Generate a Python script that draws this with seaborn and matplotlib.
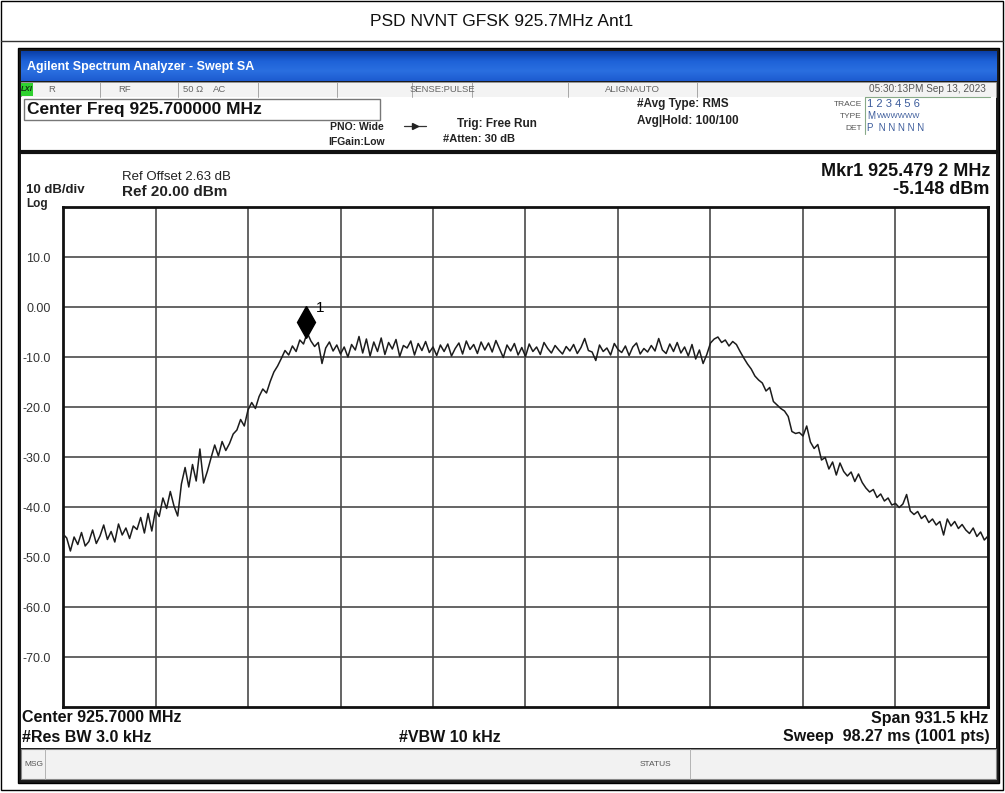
import numpy as np
import pandas as pd
import matplotlib
matplotlib.use("Agg")
import matplotlib.pyplot as plt
import matplotlib.patches as mpatches
import matplotlib.transforms as mtransforms
from matplotlib.lines import Line2D
import seaborn as sns

W, H = 1005, 793

# ---------------- data ----------------
title_text = "PSD NVNT GFSK 925.7MHz Ant1"
center_mhz = 925.7
span_khz = 931.5
ref_level_dbm = 20.0
db_per_div = 10.0
marker_freq_mhz = 925.4792
marker_level_dbm = -5.148

y_tick_values = [10, 0, -10, -20, -30, -40, -50, -60, -70]
y_tick_labels = ["10.0", "0.00", "-10.0", "-20.0", "-30.0", "-40.0",
                 "-50.0", "-60.0", "-70.0"]

trace_dbm = [
    -45.4, -46.2, -48.8, -46.0, -47.5, -45.1, -47.8, -46.9, -44.6, -47.3,
    -45.8, -43.6, -46.5, -44.9, -47.0, -43.4, -45.6, -44.2, -46.3, -43.8,
    -44.5, -42.1, -45.2, -41.3, -44.8, -40.6, -41.9, -38.2, -40.3, -36.9,
    -39.8, -41.8, -35.4, -32.1, -36.0, -31.5, -34.8, -28.4, -35.2, -32.9,
    -30.2, -27.6, -29.8, -26.9, -28.7, -27.3, -25.4, -24.6, -22.5, -23.8,
    -20.6, -19.1, -20.3, -17.9, -16.4, -17.2, -14.9, -13.0, -11.8, -10.3,
    -8.7, -9.6, -7.8, -8.9, -6.6, -7.4, -5.148, -6.8, -7.9, -7.1,
    -11.3, -8.2, -7.0, -8.8, -7.6, -9.4, -8.0, -10.0, -7.5, -8.6,
    -5.9, -9.2, -6.4, -9.8, -7.0, -8.9, -6.2, -9.5, -7.1, -8.4,
    -6.5, -9.9, -7.7, -8.2, -6.8, -9.6, -7.3, -8.7, -6.9, -9.1,
    -8.0, -9.7, -7.6, -8.9, -7.4, -9.8, -8.3, -7.2, -9.4, -6.8,
    -8.5, -7.5, -9.3, -7.0, -8.6, -7.2, -9.0, -6.7, -8.4, -10.1,
    -7.6, -8.8, -7.3, -9.6, -8.1, -9.9, -7.4, -8.9, -8.0, -9.5,
    -7.1, -8.3, -9.2, -7.7, -8.6, -9.4, -7.9, -8.8, -7.5, -9.3,
    -8.1, -6.3, -8.7, -9.0, -10.7, -7.6, -8.9, -8.2, -9.6, -7.3,
    -8.5, -9.1, -7.8, -9.7, -8.0, -7.2, -9.4, -8.3, -9.0, -7.7,
    -8.8, -6.3, -8.6, -9.3, -7.4, -8.9, -7.1, -9.2, -8.0, -9.8,
    -7.5, -10.4, -8.6, -11.3, -9.5, -7.2, -6.4, -6.0, -7.1, -6.6,
    -7.8, -6.9, -7.5, -8.9, -10.2, -11.4, -12.4, -13.8, -14.6, -15.2,
    -16.8, -16.1, -18.9, -19.6, -20.3, -20.8, -21.9, -24.9, -25.3, -25.1,
    -25.8, -23.8, -27.0, -28.3, -27.5, -30.6, -30.1, -32.4, -31.0, -33.6,
    -31.2, -32.9, -33.8, -33.0, -34.9, -33.4, -35.1, -36.2, -37.0, -36.5,
    -38.1, -37.4, -38.8, -38.2, -39.6, -39.3, -40.1, -39.4, -37.5, -40.8,
    -41.5, -40.9, -42.3, -41.7, -43.1, -42.4, -43.6, -42.9, -45.6, -42.4,
    -43.8, -42.9, -44.3, -43.5, -44.6, -45.3, -44.2, -45.9, -45.0, -46.6, -45.8,
]

start_mhz = center_mhz - span_khz / 2000.0
stop_mhz = center_mhz + span_khz / 2000.0
freq_mhz = np.linspace(start_mhz, stop_mhz, len(trace_dbm))
df = pd.DataFrame({"freq": freq_mhz, "dbm": trace_dbm})

# ---------------- style ----------------
sns.set_theme(style="white")
plt.rcParams['font.family'] = ['Liberation Sans', 'DejaVu Sans']

fig = plt.figure(figsize=(W / 100, H / 100), dpi=100)
fig.patch.set_facecolor("white")


def fx(x):
    return x / W


def fy(y):
    return 1 - y / H


def rect(x0, y0, x1, y1, fc="none", ec="black", lw=1.0, z=0):
    r = mpatches.Rectangle((fx(x0), fy(y1)), (x1 - x0) / W, (y1 - y0) / H,
                           transform=fig.transFigure, facecolor=fc,
                           edgecolor=ec, lw=lw, zorder=z)
    fig.add_artist(r)


def line(x0, y0, x1, y1, color="black", lw=1.0, z=1):
    fig.add_artist(Line2D([fx(x0), fx(x1)], [fy(y0), fy(y1)],
                          transform=fig.transFigure, color=color, lw=lw, zorder=z))


def txt(x, y, s, **kw):
    kw.setdefault("va", "center")
    kw.setdefault("ha", "left")
    fig.text(fx(x), fy(y), s, **kw)


# outer table
rect(1, 1, 1003, 790, ec="black", lw=1.0)
line(1, 41, 1003, 41, color="#333333", lw=1.0)
txt(502, 21, title_text, ha="center", fontsize=12.5, color="#111111")

# screenshot frame
rect(18, 48, 999, 783, fc="#1b1b1b", ec="#000000", lw=1.0)
# blue title bar with gradient
bar_ax = fig.add_axes([fx(21), fy(81), (996 - 21) / W, (81 - 51) / H])
grad = np.linspace(0, 1, 50).reshape(-1, 1)
bar_ax.imshow(grad, aspect="auto", cmap=matplotlib.colors.LinearSegmentedColormap.from_list(
    "bb", ["#0a3fa8", "#1e62d8", "#2a6fe0", "#1d5bd0"]), extent=[0, 1, 0, 1])
bar_ax.set_axis_off()
txt(27, 67, "Agilent Spectrum Analyzer - Swept SA", color="white",
    fontsize=9, fontweight="bold")

# status row
rect(21, 82, 996, 97, fc="#f3f3f3", ec="#9a9a9a", lw=0.6)
for sx in [100, 178, 258, 337, 412, 472, 568, 697]:
    line(sx, 82, sx, 97, color="#9a9a9a", lw=0.6)
rect(21, 83, 33, 96, fc="#2fd12f", ec="none")
txt(27, 89.5, "LXI", ha="center", fontsize=5.5, color="#103010", fontstyle="italic", fontweight="bold")
for sx, s in [(48, "R"), (118, "RF"), (183, "50 \u03a9"), (213, "AC"),
              (442, "SENSE:PULSE"), (632, "ALIGNAUTO")]:
    txt(sx, 89.5, s, fontsize=6.8, color="#666666",
        ha="left" if sx < 300 else "center")
txt(986, 89.5, "05:30:13PM Sep 13, 2023", ha="right", fontsize=7.2, color="#555555")

# header panel
rect(21, 97, 996, 150, fc="white", ec="none")
rect(24, 99, 380, 120, fc="none", ec="#777777", lw=1.0)
txt(27, 109.5, "Center Freq 925.700000 MHz", fontsize=12.5, fontweight="bold", color="#111111")
txt(330, 127, "PNO: Wide", fontsize=7.5, fontweight="bold", color="#222222")
txt(328, 142, "IFGain:Low", fontsize=7.5, fontweight="bold", color="#222222")
line(404, 126, 426, 126, color="#333333", lw=0.9)
fig.add_artist(Line2D([fx(415)], [fy(126)], transform=fig.transFigure, marker=">",
                      markersize=4.5, color="#222222", lw=0))
txt(457, 124, "Trig: Free Run", fontsize=8.5, fontweight="bold", color="#222222")
txt(443, 139, "#Atten: 30 dB", fontsize=8, fontweight="bold", color="#222222")
txt(637, 104, "#Avg Type: RMS", fontsize=8.5, fontweight="bold", color="#222222")
txt(637, 121, "Avg|Hold: 100/100", fontsize=8.5, fontweight="bold", color="#222222")
txt(862, 104, "TRACE", ha="right", fontsize=6, color="#555555")
txt(862, 116, "TYPE", ha="right", fontsize=6, color="#555555")
txt(862, 128, "DET", ha="right", fontsize=6, color="#555555")
line(865, 97, 865, 134, color="#88aa88", lw=0.8)
line(865, 97, 990, 97, color="#88aa88", lw=0.8)
txt(867, 104, "1 2 3 4 5 6", fontsize=8, color="#3a5a9a")
txt(867, 116, "M", fontsize=7, color="#3a5a9a")
txt(877, 116, "WWWWWW", fontsize=5.5, color="#3a5a9a")
txt(867, 128, "P  N N N N N", fontsize=7, color="#3a5a9a")
line(21, 151.5, 996, 151.5, color="#111111", lw=3)

# graph panel
rect(21, 153, 996, 748, fc="white", ec="none")
txt(122, 177, "Ref Offset 2.63 dB", fontsize=9.5, color="#222222")
txt(26, 190, "10 dB/div", fontsize=9.5, fontweight="bold", color="#222222")
txt(122, 192, "Ref 20.00 dBm", fontsize=11, fontweight="bold", color="#222222")
txt(26, 204, "Log", fontsize=8.5, fontweight="bold", color="#222222")
txt(990, 171, "Mkr1 925.479 2 MHz", ha="right", fontsize=13, fontweight="bold", color="#111111")
txt(989, 190, "-5.148 dBm", ha="right", fontsize=13, fontweight="bold", color="#111111")

# main axes (the spectrum grid)
ax = fig.add_axes([fx(63), fy(707), 925 / W, 500 / H])
ax.set_facecolor("white")
sns.lineplot(data=df, x="freq", y="dbm", ax=ax, color="#1c1c1c", lw=1.1,
             legend=False, zorder=3)
ax.set_xlim(start_mhz, stop_mhz)
ax.set_ylim(ref_level_dbm - 10 * db_per_div, ref_level_dbm)
ax.set_xticks(np.linspace(start_mhz, stop_mhz, 11))
ax.set_xticklabels([])
ax.set_yticks(y_tick_values)
ax.set_yticklabels(y_tick_labels)
ax.tick_params(axis="both", length=0)
ax.tick_params(axis="y", pad=9, labelsize=9, labelcolor="#333333")
ax.grid(True, color="#4a4a4a", lw=1.2, zorder=1)
ax.set_xlabel("")
ax.set_ylabel("")
for sp in ax.spines.values():
    sp.set_color("#111111")
    sp.set_linewidth(2.0)

# marker
ax.plot([marker_freq_mhz], [marker_level_dbm], marker="d", markersize=16,
        color="black",
        transform=mtransforms.offset_copy(ax.transData, fig=fig, x=0, y=8, units="points"),
        zorder=5, clip_on=False)
ax.text(marker_freq_mhz, marker_level_dbm, "1", fontsize=11, color="black",
        transform=mtransforms.offset_copy(ax.transData, fig=fig, x=7, y=18, units="points"),
        ha="left", va="center", zorder=5)

# bottom annotations
txt(22, 718, "Center 925.7000 MHz", fontsize=11.5, fontweight="bold", color="#111111")
txt(988, 718, "Span 931.5 kHz", ha="right", fontsize=11.5, fontweight="bold", color="#111111")
txt(22, 737, "#Res BW 3.0 kHz", fontsize=11.5, fontweight="bold", color="#111111")
txt(450, 737, "#VBW 10 kHz", ha="center", fontsize=11.5, fontweight="bold", color="#111111")
txt(990, 737, "Sweep  98.27 ms (1001 pts)", ha="right", fontsize=11.5, fontweight="bold", color="#111111")

# message bar
rect(21, 749, 996, 779, fc="#f2f2f2", ec="#888888", lw=0.8)
line(45, 749, 45, 779, color="#aaaaaa", lw=0.6)
line(690, 749, 690, 779, color="#aaaaaa", lw=0.6)
txt(24, 764, "MSG", fontsize=6, color="#555555")
txt(640, 764, "STATUS", fontsize=6, color="#555555")

fig.savefig("out.png", dpi=100, facecolor="white")
